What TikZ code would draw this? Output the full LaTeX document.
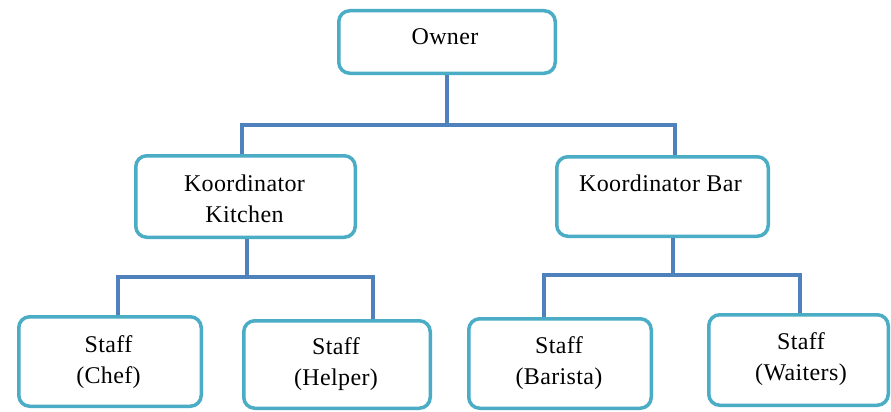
\documentclass[tikz,border=0pt]{standalone}
\usepackage{fontspec}
\setmainfont{Liberation Serif}[LetterSpace=1.5]
\definecolor{boxc}{HTML}{4BACC6}
\definecolor{connc}{HTML}{4F81BD}
\tikzset{
  box/.style={draw=boxc, line width=3.5pt, rounded corners=11pt, fill=white, inner sep=0pt},
  conn/.style={draw=connc, line width=4pt},
  txt/.style={anchor=base, inner sep=0pt, font=\fontsize{24}{29}\selectfont}
}
\begin{document}
\begin{tikzpicture}[x=1pt,y=-1pt]
\useasboundingbox (0,0) rectangle (891,412);
% connector columns
\coordinate (top) at (447,125);
\coordinate (kx) at (242,0);
\coordinate (bx) at (675,0);
\coordinate (kj) at (247,277);
\coordinate (bj) at (673,275);
\coordinate (c1) at (118,0);
\coordinate (c2) at (373,0);
\coordinate (c3) at (544,0);
\coordinate (c4) at (800,0);
% boxes
\node[box, minimum width=216.5pt, minimum height=62.5pt] (owner) at (447,42) {};
\node[box, minimum width=219.5pt, minimum height=81.5pt] (kitchen) at (245.5,196.5) {};
\node[box, minimum width=211.5pt, minimum height=79.5pt] (bar) at (662.5,196.5) {};
\node[box, minimum width=182.5pt, minimum height=89.5pt] (chef) at (110,361.5) {};
\node[box, minimum width=186.5pt, minimum height=87.5pt] (helper) at (337,364.5) {};
\node[box, minimum width=182.5pt, minimum height=89.5pt] (barista) at (560,363.5) {};
\node[box, minimum width=179.5pt, minimum height=90.5pt] (waiters) at (798.5,360) {};
% connectors
\draw[conn] (owner.south) -- (top);
\draw[conn] (kitchen.north -| kx) |- (top) -| (bar.north -| bx);
\draw[conn] (kitchen.south -| kj) -- (kj);
\draw[conn] (chef.north -| c1) |- (kj) -| (helper.north -| c2);
\draw[conn] (bar.south -| bj) -- (bj);
\draw[conn] (barista.north -| c3) |- (bj) -| (waiters.north -| c4);
% texts
\node[txt] (t-owner) at (445,45) {Owner};
\node[txt] (t-k1) at (244.5,191) {Koordinator};
\node[txt] (t-k2) at (244.5,222) {Kitchen};
\node[txt] (t-bar) at (660.5,191) {Koordinator Bar};
\node[txt] (t-c1) at (108.5,352) {Staff};
\node[txt] (t-c2) at (108.5,383) {(Chef)};
\node[txt] (t-h1) at (336,354) {Staff};
\node[txt] (t-h2) at (336,385) {(Helper)};
\node[txt] (t-b1) at (559,353) {Staff};
\node[txt] (t-b2) at (559,384) {(Barista)};
\node[txt] (t-w1) at (801,349) {Staff};
\node[txt] (t-w2) at (801,380) {(Waiters)};
\end{tikzpicture}
\end{document}
